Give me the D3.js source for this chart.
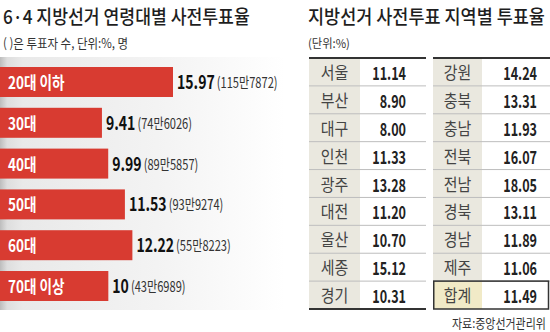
<!DOCTYPE html>
<html>
<head>
<meta charset="utf-8">
<script src="https://cdn.jsdelivr.net/npm/d3@7"></script>
<style>
  body { margin: 0; background: #fff; }
  svg { display: block; }
</style>
</head>
<body>
<svg id="chart" width="550" height="332"></svg>
<script>
// Early-voting turnout by age group (%), with voter counts
const ageGroups = ["20대 이하", "30대", "40대", "50대", "60대", "70대 이상"];
const ageRates = [15.97, 9.41, 9.99, 11.53, 12.22, 10];
const ageVoters = ["115만7872", "74만6026", "89만5857", "93만9274", "55만8223", "43만6989"];

// Early-voting turnout by region (%)
const regionsLeft = ["서울", "부산", "대구", "인천", "광주", "대전", "울산", "세종", "경기"];
const ratesLeft = [11.14, 8.90, 8.00, 11.33, 13.28, 11.20, 10.70, 15.12, 10.31];
const regionsRight = ["강원", "충북", "충남", "전북", "전남", "경북", "경남", "제주", "합계"];
const ratesRight = [14.24, 13.31, 11.93, 16.07, 18.05, 13.11, 11.89, 11.06, 11.49];

const titleLeft = "6·4 지방선거 연령대별 사전투표율";
const subLeft = "( )은 투표자 수, 단위:%, 명";
const titleRight = "지방선거 사전투표 지역별 투표율";
const subRight = "(단위:%)";
const source = "자료:중앙선거관리위";

const FONT = "'Noto Sans CJK KR', 'Noto Sans', sans-serif";
const svg = d3.select("#chart");
const defs = svg.append("defs");

// text compressed horizontally, returns drawn width
function squeezed(parent, x, y, str, o) {
  const g = parent.append("g").attr("transform", `translate(${x},${y}) scale(${o.sx},1)`);
  const t = g.append("text")
    .text(str)
    .attr("font-family", FONT)
    .attr("font-size", o.size)
    .attr("font-weight", o.weight || 400)
    .attr("fill", o.fill || "#222")
    .attr("text-anchor", o.anchor || "start");
  return t.node().getComputedTextLength() * o.sx;
}

// text scaled horizontally to an exact width
function fitted(x, y, str, width, o) {
  const g = svg.append("g");
  const t = g.append("text")
    .attr("font-family", FONT)
    .attr("font-size", o.size)
    .attr("font-weight", o.weight || 400)
    .attr("fill", o.fill || "#222")
    .text(str);
  const natural = t.node().getComputedTextLength();
  g.attr("transform", `translate(${x},${y}) scale(${width / natural},1)`);
  return g;
}

// ---------- left panel: bar chart ----------
const grad = defs.append("linearGradient").attr("id", "panelBg")
  .attr("x1", 0).attr("x2", 1).attr("y1", 0).attr("y2", 0);
grad.append("stop").attr("offset", "0%").attr("stop-color", "#bdbdbd");
grad.append("stop").attr("offset", "2.5%").attr("stop-color", "#dedede");
grad.append("stop").attr("offset", "8%").attr("stop-color", "#e9e9e9");
grad.append("stop").attr("offset", "55%").attr("stop-color", "#f3f3f3");
grad.append("stop").attr("offset", "100%").attr("stop-color", "#ffffff");

svg.append("rect")
  .attr("x", 0).attr("y", 57).attr("width", 285).attr("height", 253)
  .attr("fill", "url(#panelBg)");

fitted(3, 24, titleLeft, 247, { size: 19, weight: 500, fill: "#1e1e1e" });
fitted(3, 48, subLeft, 125, { size: 13, fill: "#333" });

const x = d3.scaleLinear().domain([0, d3.max(ageRates)]).range([0, 173]);
const y = d3.scaleBand().domain(ageGroups).range([67, 301]).paddingInner(0.265);

const bars = svg.append("g");
ageGroups.forEach((g, i) => {
  const top = y(g);
  const bw = y.bandwidth();
  const w = x(ageRates[i]);
  bars.append("rect")
    .attr("x", x(0)).attr("y", top)
    .attr("width", w).attr("height", bw)
    .attr("fill", "#d83b31");
  squeezed(bars, 8, top + bw / 2 + 7, g, { size: 17, weight: 700, fill: "#fff", sx: 0.8 });
  const vx = x(0) + w + 4;
  const vw = squeezed(bars, vx, top + bw / 2 + 7, String(ageRates[i]),
    { size: 19, weight: 700, fill: "#111", sx: 0.74 });
  squeezed(bars, vx + vw + 2, top + bw / 2 + 6, `(${ageVoters[i]})`,
    { size: 15, fill: "#333", sx: 0.74 });
});

// ---------- right panel: regional tables ----------
fitted(308, 24, titleRight, 237, { size: 19, weight: 500, fill: "#1e1e1e" });
fitted(308, 48, subRight, 42, { size: 12, fill: "#333" });

const rows = d3.scaleBand().domain(d3.range(regionsLeft.length)).range([58, 309]);

function table(names, rates, x0, xm, x1, valueRight, withTotal) {
  const g = svg.append("g");
  const rh = rows.bandwidth();
  names.forEach((n, i) => {
    const top = rows(i);
    const isTotal = withTotal && i === names.length - 1;
    g.append("rect").attr("x", x0).attr("y", top).attr("width", xm - x0).attr("height", rh)
      .attr("fill", isTotal ? "#f1eac7" : "#eae8df");
    if (i > 0) {
      g.append("line").attr("x1", x0).attr("x2", x1).attr("y1", top).attr("y2", top)
        .attr("stroke", "#bdbdbd").attr("stroke-width", 1);
    }
    squeezed(g, (x0 + xm) / 2, top + rh / 2 + 7, n, { size: 17, fill: "#444", sx: 0.88, anchor: "middle" });
    squeezed(g, valueRight, top + rh / 2 + 8, rates[i].toFixed(2),
      { size: 18, weight: 700, fill: "#222", sx: 0.7, anchor: "end" });
  });
  g.append("line").attr("x1", x0).attr("x2", x1).attr("y1", 58).attr("y2", 58)
    .attr("stroke", "#333").attr("stroke-width", 2);
  if (withTotal) {
    const top = rows(names.length - 1);
    g.append("rect").attr("x", x0 + 0.75).attr("y", top).attr("width", x1 - x0 - 2.25).attr("height", rh)
      .attr("fill", "none").attr("stroke", "#333").attr("stroke-width", 1.5);
  } else {
    g.append("line").attr("x1", x0).attr("x2", x1).attr("y1", 309).attr("y2", 309)
      .attr("stroke", "#333").attr("stroke-width", 2);
  }
}

table(regionsLeft, ratesLeft, 309, 360, 426, 406, false);
table(regionsRight, ratesRight, 433, 482, 550, 537, true);

fitted(452, 328, source, 94, { size: 13, fill: "#333" });
</script>
</body>
</html>
